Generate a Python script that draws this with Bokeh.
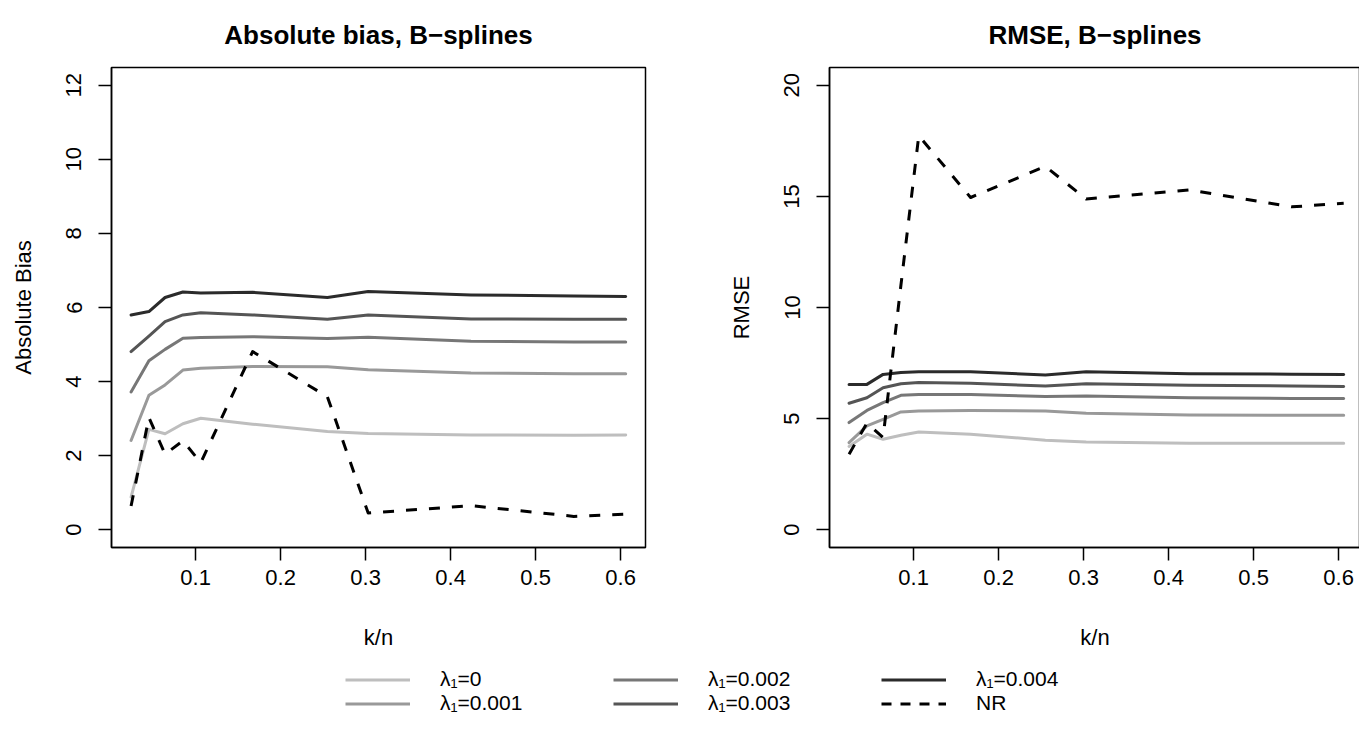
from bokeh.plotting import figure
from bokeh.models import Range1d, FixedTicker, Legend, LegendItem
from bokeh.layouts import column, row
from bokeh.embed import file_html
from bokeh.resources import INLINE

# ---- data ----
k_over_n = [0.024, 0.045, 0.064, 0.085, 0.106, 0.167, 0.255, 0.303, 0.424, 0.545, 0.606]

bias_lam0    = [0.88, 2.71, 2.59, 2.86, 3.01, 2.85, 2.65, 2.60, 2.56, 2.55, 2.56]
bias_lam0001 = [2.41, 3.63, 3.91, 4.31, 4.36, 4.41, 4.40, 4.32, 4.23, 4.21, 4.21]
bias_lam0002 = [3.72, 4.56, 4.87, 5.17, 5.19, 5.21, 5.16, 5.20, 5.09, 5.07, 5.07]
bias_lam0003 = [4.81, 5.23, 5.62, 5.80, 5.86, 5.80, 5.68, 5.80, 5.69, 5.68, 5.68]
bias_lam0004 = [5.80, 5.89, 6.27, 6.42, 6.39, 6.41, 6.27, 6.43, 6.34, 6.31, 6.30]
bias_nr      = [0.64, 3.03, 2.04, 2.40, 1.81, 4.81, 3.59, 0.45, 0.65, 0.36, 0.42]

rmse_lam0    = [3.75, 4.30, 4.07, 4.25, 4.40, 4.30, 4.03, 3.95, 3.89, 3.89, 3.89]
rmse_lam0001 = [3.92, 4.67, 4.97, 5.30, 5.34, 5.37, 5.34, 5.24, 5.16, 5.15, 5.15]
rmse_lam0002 = [4.82, 5.37, 5.72, 6.05, 6.09, 6.09, 5.99, 6.02, 5.94, 5.91, 5.90]
rmse_lam0003 = [5.69, 5.94, 6.39, 6.57, 6.62, 6.59, 6.47, 6.57, 6.50, 6.47, 6.45]
rmse_lam0004 = [6.54, 6.54, 6.99, 7.08, 7.11, 7.11, 6.96, 7.11, 7.02, 7.00, 6.99]
rmse_nr      = [3.40, 4.80, 4.15, 11.0, 17.73, 14.95, 16.35, 14.88, 15.29, 14.53, 14.69]

series_labels = ["\u03bb\u2081=0", "\u03bb\u2081=0.001", "\u03bb\u2081=0.002",
                 "\u03bb\u2081=0.003", "\u03bb\u2081=0.004", "NR"]
x_ticks = [0.1, 0.2, 0.3, 0.4, 0.5, 0.6]
bias_ticks = [0, 2, 4, 6, 8, 10, 12]
rmse_ticks = [0, 5, 10, 15, 20]

# ---- styles ----
colors = ["#BEBEBE", "#999999", "#777777", "#555555", "#2B2B2B", "#000000"]
FONT = "Liberation Sans"
LW = 3
DASH = "11 12"


def style_fig(p, ticks, ylabel):
    p.outline_line_color = "black"
    p.outline_line_width = 1.5
    p.xgrid.visible = False
    p.ygrid.visible = False
    p.background_fill_color = "white"
    p.border_fill_color = "white"
    p.title.align = "center"
    p.title.vertical_align = "top"
    p.title.text_font = FONT
    p.title.text_font_size = "26px"
    p.title.text_font_style = "bold"
    p.title.text_color = "black"
    p.title.standoff = 32
    for ax in (p.xaxis[0], p.yaxis[0]):
        ax.axis_line_color = "black"
        ax.axis_line_width = 1.5
        ax.major_tick_line_color = "black"
        ax.major_tick_line_width = 1.5
        ax.major_tick_in = 0
        ax.major_tick_out = 13
        ax.minor_tick_line_color = None
        ax.major_label_text_font = FONT
        ax.major_label_text_font_size = "22px"
        ax.major_label_text_color = "black"
        ax.axis_label_text_font = FONT
        ax.axis_label_text_font_size = "22px"
        ax.axis_label_text_font_style = "normal"
        ax.axis_label_text_color = "black"
    p.xaxis[0].ticker = FixedTicker(ticks=x_ticks)
    p.xaxis[0].major_label_standoff = 9
    p.xaxis[0].axis_label = "k/n"
    p.xaxis[0].axis_label_standoff = 37
    p.yaxis[0].ticker = FixedTicker(ticks=ticks)
    p.yaxis[0].major_label_orientation = "vertical"
    p.yaxis[0].major_label_standoff = 17
    p.yaxis[0].axis_label = ylabel
    p.yaxis[0].axis_label_standoff = 28


def add_lines(p, ys):
    for i, y in enumerate(ys):
        if i < 5:
            p.line(k_over_n, y, line_color=colors[i], line_width=LW,
                   line_join="round", line_cap="round")
        else:
            p.line(k_over_n, y, line_color=colors[i], line_width=LW,
                   line_dash=DASH, line_join="round")


x_lo, x_hi = 0.00097, 0.6293
FW = 534
FW2 = 531
x_hi2 = x_lo + (x_hi - x_lo) * FW2 / FW

p1 = figure(title="Absolute bias, B\u2212splines", output_backend="svg", toolbar_location=None,
            frame_width=FW, frame_height=480,
            min_border_left=111, min_border_right=80, min_border_top=67, min_border_bottom=110,
            x_range=Range1d(x_lo, x_hi), y_range=Range1d(-0.48, 12.48))
style_fig(p1, bias_ticks, "Absolute Bias")
add_lines(p1, [bias_lam0, bias_lam0001, bias_lam0002, bias_lam0003, bias_lam0004, bias_nr])

p2 = figure(title="RMSE, B\u2212splines", output_backend="svg", toolbar_location=None,
            frame_width=FW2, frame_height=480,
            min_border_left=103, min_border_right=0, min_border_top=67, min_border_bottom=110,
            x_range=Range1d(x_lo, x_hi2), y_range=Range1d(-0.8, 20.8))
style_fig(p2, rmse_ticks, "RMSE")
add_lines(p2, [rmse_lam0, rmse_lam0001, rmse_lam0002, rmse_lam0003, rmse_lam0004, rmse_nr])

# ---- legend panel ----
pl = figure(output_backend="svg", toolbar_location=None, width=1359, height=85,
            min_border_left=0, min_border_right=0, min_border_top=0, min_border_bottom=0,
            x_range=Range1d(0, 1), y_range=Range1d(0, 1))
pl.axis.visible = False
pl.xgrid.visible = False
pl.ygrid.visible = False
pl.outline_line_color = None
items = []
for i, lab in enumerate(series_labels):
    if i < 5:
        r = pl.line([5, 6], [5, 6], line_color=colors[i], line_width=LW)
    else:
        r = pl.line([5, 6], [5, 6], line_color=colors[i], line_width=LW, line_dash="10 9")
    items.append(LegendItem(label=lab, renderers=[r]))
leg = Legend(items=items, orientation="vertical", nrows=2,
             location=(345, 27), padding=0, margin=0, spacing=0,
             glyph_width=65, glyph_height=21, label_height=21,
             label_standoff=30, label_width=173,
             label_text_font=FONT, label_text_font_size="21px", label_text_color="black",
             border_line_color=None, background_fill_alpha=0)
pl.add_layout(leg, "center")

layout = column(row(p1, p2), pl, spacing=0)
open("out.html", "w").write(file_html(layout, INLINE))
